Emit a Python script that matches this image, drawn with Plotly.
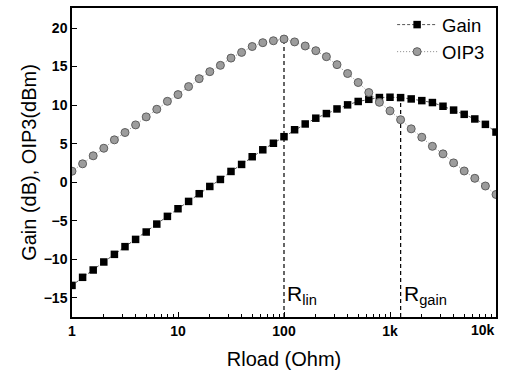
import numpy as np
import plotly.graph_objects as go

# Load resistance (Ohm): 10 points per decade from 1 to 10k
rload = [round(10 ** (k / 10), 4) for k in range(41)]

gain_db = [-13.4, -12.35, -11.4, -10.36, -9.37, -8.37, -7.43, -6.47, -5.44, -4.44,
           -3.45, -2.5, -1.5, -0.56, 0.35, 1.39, 2.3, 3.3, 4.2, 5.05,
           5.9, 6.8, 7.55, 8.3, 8.9, 9.5, 10.03, 10.47, 10.75, 10.98,
           11.02, 10.97, 10.8, 10.58, 10.33, 9.85, 9.35, 8.8, 8.2, 7.5,
           6.5]

oip3_dbm = [1.42, 2.38, 3.42, 4.4, 5.49, 6.44, 7.43, 8.47, 9.46, 10.49,
            11.36, 12.4, 13.43, 14.34, 15.16, 16.1, 16.84, 17.6, 18.1, 18.35,
            18.57, 18.2, 17.67, 17.06, 16.28, 15.25, 14.1, 12.93, 11.63, 10.36,
            9.25, 8.1, 6.92, 5.83, 4.65, 3.67, 2.5, 1.45, 0.5, -0.5,
            -1.6]

r_lin = 100
r_gain = 1260
r_lin_top = 18.57
r_gain_top = 10.95

NB = "\u00a0"
x_tickvals = [1, 10, 100, 1000, 10000]
x_ticktext = ["1", "10", "100", "1k", "10k"]
x_minor = [m * 10 ** d for d in range(4) for m in range(2, 10)]
y_tickvals = [-15, -10, -5, 0, 5, 10, 15, 20]

y_min, y_max = -17.5, 22.6

FONT = "Liberation Sans, Arial, sans-serif"
TICKFONT = dict(family=FONT, size=14, color="black", weight="bold")

fig = go.Figure()

fig.add_trace(go.Scatter(
    x=[r_lin, r_lin], y=[y_min, r_lin_top], mode="lines",
    line=dict(color="black", width=1.2, dash="4px,3px"), showlegend=False,
    hoverinfo="skip"))
fig.add_trace(go.Scatter(
    x=[r_gain, r_gain], y=[y_min, r_gain_top], mode="lines",
    line=dict(color="black", width=1.2, dash="4px,3px"), showlegend=False,
    hoverinfo="skip"))

fig.add_trace(go.Scatter(
    x=rload, y=gain_db, name="Gain", mode="lines+markers",
    line=dict(color="#555555", width=1, dash="3px,2px"),
    marker=dict(symbol="square", size=7.5, color="black",
                line=dict(color="black", width=0))))

fig.add_trace(go.Scatter(
    x=rload, y=oip3_dbm, name="OIP3", mode="lines+markers",
    line=dict(color="#888888", width=1, dash="1px,2px"),
    marker=dict(symbol="circle", size=8, color="#9c9c9c",
                line=dict(color="#5e5e5e", width=1))))

fig.add_annotation(x=np.log10(r_lin), y=-14.7, text="R<sub>lin</sub>",
                   showarrow=False, xanchor="left", yanchor="middle", xshift=1,
                   font=dict(family=FONT, size=21, color="black"))
fig.add_annotation(x=np.log10(r_gain), y=-14.7, text="R<sub>gain</sub>",
                   showarrow=False, xanchor="left", yanchor="middle", xshift=1,
                   font=dict(family=FONT, size=21, color="black"))

# last x tick label sits flush with the right end of the axis
fig.add_annotation(x=np.log10(x_tickvals[-1]), xref="x", y=0, yref="paper",
                   text=x_ticktext[-1], showarrow=False,
                   xanchor="right", yanchor="top", yshift=-3, xshift=1,
                   font=TICKFONT)

fig.update_layout(
    width=505, height=370,
    margin=dict(l=72, r=9, t=7, b=53),
    paper_bgcolor="white", plot_bgcolor="white",
    font=dict(family=FONT, color="black"),
    showlegend=True,
    legend=dict(x=0.755, y=1.003, xanchor="left", yanchor="top",
                bgcolor="rgba(0,0,0,0)", borderwidth=0,
                font=dict(family=FONT, size=18.5, color="black"),
                itemwidth=40, tracegroupgap=0),
    xaxis=dict(
        type="log", range=[0, 4], automargin=False,
        tickvals=x_tickvals, ticktext=x_ticktext[:-1] + [""],
        ticks="inside", ticklen=5, tickwidth=1.2, tickcolor="black",
        minor=dict(tickvals=x_minor, ticks="inside", ticklen=3,
                   tickwidth=1, tickcolor="black"),
        showline=True, linecolor="black", linewidth=1.5, mirror=True,
        showgrid=False, zeroline=False,
        tickfont=TICKFONT,
        title=dict(text="Rload (Ohm)", standoff=17,
                   font=dict(family=FONT, size=20, color="black")),
    ),
    yaxis=dict(
        range=[y_min, y_max], automargin=False,
        tickvals=y_tickvals,
        ticks="inside", ticklen=5, tickwidth=1.2, tickcolor="black",
        showline=True, linecolor="black", linewidth=1.5, mirror=True,
        showgrid=False, zeroline=False,
        tickfont=TICKFONT,
        title=dict(text="Gain (dB), OIP3(dBm)" + NB * 5, standoff=2,
                   font=dict(family=FONT, size=20, color="black")),
    ),
)

fig.write_html("out.html")
